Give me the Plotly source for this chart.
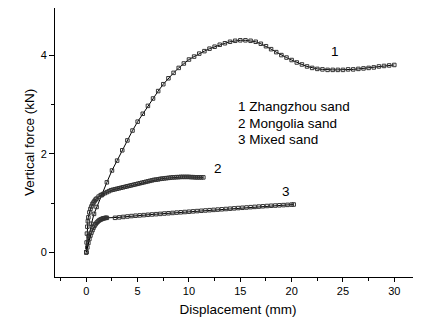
import plotly.graph_objects as go

# Curve 1: Zhangzhou sand
x1 = [0, 0.25, 0.5, 0.75, 1.0, 1.5, 2.0, 2.5, 3.0, 3.5, 4.0, 4.5, 5.0, 5.5, 6.0, 6.5, 7.0, 7.5,
      8.0, 8.5, 9.0, 9.5, 10.0, 10.5, 11.0, 11.5, 12.0, 12.5, 13.0, 13.5, 14.0, 14.5, 15.0, 15.5,
      16.0, 16.5, 17.0, 17.5, 18.0, 18.5, 19.0, 19.5, 20.0, 20.5, 21.0, 21.5, 22.0, 22.5, 23.0,
      23.5, 24.0, 24.5, 25.0, 25.5, 26.0, 26.5, 27.0, 27.5, 28.0, 28.5, 29.0, 29.5, 30.0]
y1 = [0, 0.33, 0.58, 0.78, 0.92, 1.16, 1.42, 1.66, 1.86, 2.07, 2.27, 2.47, 2.65, 2.81, 2.97, 3.12,
      3.27, 3.41, 3.53, 3.64, 3.74, 3.83, 3.91, 3.97, 4.03, 4.08, 4.13, 4.17, 4.21, 4.24, 4.27, 4.29,
      4.30, 4.30, 4.29, 4.27, 4.23, 4.18, 4.12, 4.06, 4.00, 3.95, 3.90, 3.85, 3.81, 3.77, 3.74, 3.72,
      3.71, 3.70, 3.70, 3.70, 3.70, 3.71, 3.71, 3.72, 3.73, 3.74, 3.75, 3.77, 3.78, 3.79, 3.80]

# Curve 2: Mongolia sand
x2 = [0, 0.03, 0.06, 0.1, 0.15, 0.2, 0.3, 0.4, 0.5, 0.6, 0.7, 0.8, 0.9, 1.0, 1.2, 1.4, 1.6, 1.8,
      2.0, 2.2, 2.4, 2.6, 2.8, 3.0, 3.2, 3.4, 3.6, 3.8, 4.0, 4.2, 4.4, 4.6, 4.8, 5.0, 5.2, 5.4, 5.6,
      5.8, 6.0, 6.2, 6.4, 6.6, 6.8, 7.0, 7.2, 7.4, 7.6, 7.8, 8.0, 8.2, 8.4, 8.6, 8.8, 9.0, 9.2, 9.4,
      9.6, 9.8, 10.0, 10.2, 10.4, 10.6, 10.8, 11.0, 11.2, 11.4]
y2 = [0, 0.2, 0.38, 0.52, 0.63, 0.71, 0.81, 0.88, 0.93, 0.98, 1.01, 1.04, 1.07, 1.09, 1.13, 1.16,
      1.18, 1.2, 1.22, 1.24, 1.26, 1.27, 1.28, 1.29, 1.30, 1.31, 1.32, 1.33, 1.34, 1.35, 1.36, 1.37,
      1.38, 1.39, 1.40, 1.41, 1.42, 1.43, 1.44, 1.45, 1.46, 1.47, 1.475, 1.48, 1.49, 1.495, 1.50,
      1.505, 1.51, 1.515, 1.52, 1.52, 1.525, 1.525, 1.53, 1.53, 1.53, 1.53, 1.53, 1.525, 1.525,
      1.52, 1.52, 1.52, 1.52, 1.52]

# Curve 3: Mixed sand
x3 = [0, 0.1, 0.2, 0.3, 0.4, 0.5, 0.6, 0.7, 0.8, 0.9, 1.0, 1.1, 1.2, 1.3, 1.4, 1.5, 1.6, 1.7, 1.8,
      1.9, 2.0, 2.8, 3.2, 3.6, 4.0, 4.4, 4.8, 5.2, 5.6, 6.0, 6.4, 6.8, 7.2, 7.6, 8.0, 8.4, 8.8, 9.2,
      9.6, 10.0, 10.4, 10.8, 11.2, 11.6, 12.0, 12.4, 12.8, 13.2, 13.6, 14.0, 14.4, 14.8, 15.2, 15.6,
      16.0, 16.4, 16.8, 17.2, 17.6, 18.0, 18.4, 18.8, 19.2, 19.6, 20.0, 20.2]
y3 = [0, 0.1, 0.19, 0.27, 0.34, 0.40, 0.45, 0.50, 0.54, 0.57, 0.60, 0.62, 0.64, 0.655, 0.665,
      0.675, 0.685, 0.69, 0.695, 0.70, 0.70, 0.700, 0.709, 0.718, 0.727, 0.736, 0.743, 0.749, 0.755,
      0.762, 0.768, 0.774, 0.780, 0.787, 0.793, 0.799, 0.806, 0.812, 0.818, 0.824, 0.831, 0.837,
      0.843, 0.849, 0.855, 0.861, 0.867, 0.873, 0.879, 0.885, 0.892, 0.898, 0.904, 0.910, 0.916,
      0.922, 0.928, 0.934, 0.940, 0.945, 0.949, 0.954, 0.958, 0.963, 0.968, 0.970]

curve_labels = ["1", "2", "3"]
curve_label_x = [24.2, 12.85, 19.45]
curve_label_y = [4.07, 1.70, 1.23]

legend_lines = ["1 Zhangzhou sand", "2 Mongolia sand", "3 Mixed sand"]
legend_x = 14.55
legend_y = [2.95, 2.62, 2.29]

x_ticks = [0, 5, 10, 15, 20, 25, 30]
y_ticks = [0, 2, 4]

FONT = "Liberation Sans, Arial, sans-serif"

fig = go.Figure()
for xs, ys in [(x1, y1), (x2, y2), (x3, y3)]:
    fig.add_trace(go.Scatter(
        x=xs, y=ys, mode="lines+markers",
        line=dict(color="black", width=1),
        marker=dict(symbol="square-open", size=3.5, color="#333333", line=dict(width=1)),
        showlegend=False, hoverinfo="skip"))

for t, xx, yy in zip(curve_labels, curve_label_x, curve_label_y):
    fig.add_annotation(x=xx, y=yy, text=t, showarrow=False,
                       font=dict(family=FONT, size=13.5, color="black"))
for t, yy in zip(legend_lines, legend_y):
    fig.add_annotation(x=legend_x, y=yy, text=t, showarrow=False, xanchor="left",
                       font=dict(family=FONT, size=13.5, color="black"))

fig.add_annotation(xref="paper", yref="paper", x=-0.0956, y=0.5, text="Vertical force (kN)",
                   textangle=-90, showarrow=False,
                   font=dict(family=FONT, size=13.5, color="black"))

# page body adds an 8 px margin, so the figure is sized to fit the window
fig.update_layout(
    width=413, height=317,
    margin=dict(l=47, r=0, t=0, b=48),
    paper_bgcolor="white", plot_bgcolor="white",
    font=dict(family=FONT, size=11, color="black"),
    xaxis=dict(range=[-3.05, 32.6], tickvals=x_ticks, ticks="outside", ticklen=4,
               tickwidth=1, tickcolor="black", showline=True, linecolor="black", linewidth=1,
               showgrid=False, zeroline=False,
               minor=dict(dtick=2.5, tick0=0, ticks="outside", ticklen=3, tickcolor="black",
                          showgrid=False),
               title=dict(text="Displacement (mm)", font=dict(size=13.5), standoff=8)),
    yaxis=dict(range=[-0.5, 4.955], tickvals=y_ticks, ticks="outside", ticklen=5,
               tickwidth=1, tickcolor="black", showline=True, linecolor="black", linewidth=1,
               showgrid=False, zeroline=False,
               minor=dict(dtick=1, tick0=0, ticks="outside", ticklen=3, tickcolor="black",
                          showgrid=False)),
)

fig.write_html("out.html")
